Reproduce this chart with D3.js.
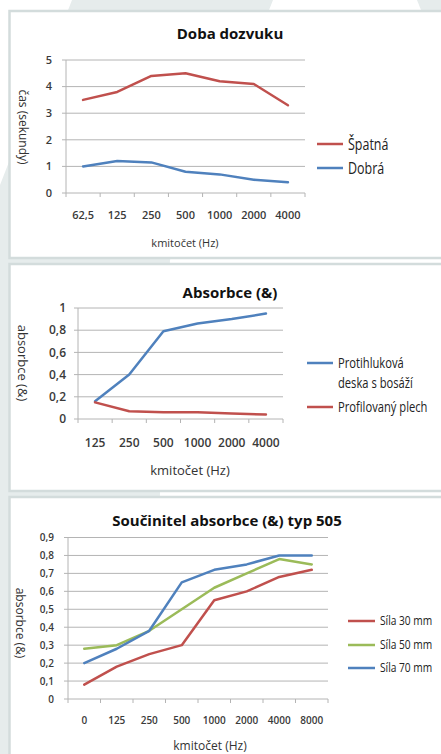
<!DOCTYPE html>
<html>
<head>
<meta charset="utf-8">
<script src="https://cdn.jsdelivr.net/npm/d3@7"></script>
<style>
  body { margin: 0; background: #ffffff; }
  svg { display: block; }
</style>
</head>
<body>
<svg id="chart" width="441" height="754"></svg>
<script>
// Chart 1: Doba dozvuku
let dozvukCategories = ["62,5", "125", "250", "500", "1000", "2000", "4000"];
let dozvukSpatna = [3.5, 3.8, 4.4, 4.5, 4.2, 4.1, 3.3];
let dozvukDobra = [1.0, 1.2, 1.15, 0.8, 0.7, 0.5, 0.4];
let dozvukTicks = [0, 1, 2, 3, 4, 5];

// Chart 2: Absorbce (&)
let absorbceCategories = ["125", "250", "500", "1000", "2000", "4000"];
let absorbceDeska = [0.16, 0.4, 0.79, 0.86, 0.9, 0.95];
let absorbcePlech = [0.15, 0.07, 0.06, 0.06, 0.05, 0.04];
let absorbceTicks = [0, 0.2, 0.4, 0.6, 0.8, 1];

// Chart 3: Součinitel absorbce (&) typ 505
let typCategories = ["0", "125", "250", "500", "1000", "2000", "4000", "8000"];
let typSila30 = [0.08, 0.18, 0.25, 0.3, 0.55, 0.6, 0.68, 0.72];
let typSila50 = [0.28, 0.3, 0.38, 0.5, 0.62, 0.7, 0.78, 0.75];
let typSila70 = [0.2, 0.28, 0.38, 0.65, 0.72, 0.75, 0.8, 0.8];
let typTicks = [0, 0.1, 0.2, 0.3, 0.4, 0.5, 0.6, 0.7, 0.8, 0.9];

let colors = { red: "#c0504d", blue: "#4f81bd", green: "#9bbb59" };
let baseFont = "'Open Sans', 'Noto Sans', sans-serif";

let svg = d3.select("#chart");

// Background stripes and panel frames.
svg.append("rect").attr("width", 441).attr("height", 754).attr("fill", "#ffffff");
svg.append("polygon")
    .attr("points", "72,0 273,0 170,260 160,493 150,754 0,754 0,185")
    .attr("fill", "#e6ecec");
svg.append("polygon")
    .attr("points", "417,0 441,0 441,60")
    .attr("fill", "#e6ecec");

let panels = [
    { y: 11, height: 247 },
    { y: 264, height: 227 },
    { y: 497, height: 270 }
];
panels.forEach(p => {
    svg.append("rect")
        .attr("x", 9.5)
        .attr("y", p.y)
        .attr("width", 440)
        .attr("height", p.height)
        .attr("fill", "#ffffff")
        .attr("stroke", "#d3dcdc")
        .attr("stroke-width", 2.5);
});

function fmt(v) {
    return String(v).replace(".", ",");
}

/**
 *   cfg: positions, data and fonts for one panel
 *   returns void, draws one Excel-like line chart
 */
function drawLineChart(cfg) {
    let g = svg.append("g");

    let x = d3.scaleBand()
        .domain(cfg.categories)
        .range([cfg.left, cfg.right]);
    let y = d3.scaleLinear()
        .domain([0, cfg.max])
        .range([cfg.bottom, cfg.top]);

    // Title.
    g.append("text")
        .attr("x", cfg.titleX)
        .attr("y", cfg.titleY)
        .attr("text-anchor", "middle")
        .style("font-family", baseFont)
        .style("font-weight", "bold")
        .style("font-size", cfg.titleSize + "px")
        .attr("fill", "#111")
        .text(cfg.title);

    // Gridlines and y labels.
    cfg.ticks.forEach(t => {
        g.append("line")
            .attr("x1", cfg.left - 4)
            .attr("x2", cfg.right)
            .attr("y1", y(t))
            .attr("y2", y(t))
            .attr("stroke", "#b4b4b4")
            .attr("stroke-width", 1);
        g.append("text")
            .attr("x", cfg.yLabelX)
            .attr("y", y(t))
            .attr("dy", "0.35em")
            .attr("text-anchor", "end")
            .style("font-family", baseFont)
            .style("font-size", cfg.tickSize + "px")
            .style("font-weight", 600)
            .attr("fill", "#3a3a3a")
            .text(fmt(t));
    });

    // Left axis.
    g.append("line")
        .attr("x1", cfg.left).attr("x2", cfg.left)
        .attr("y1", cfg.top).attr("y2", cfg.bottom)
        .attr("stroke", "#b4b4b4");

    // X tick marks at band edges.
    let edges = cfg.categories.map(c => x(c)).concat([cfg.right]);
    edges.forEach(ex => {
        g.append("line")
            .attr("x1", ex).attr("x2", ex)
            .attr("y1", cfg.bottom).attr("y2", cfg.bottom + 4)
            .attr("stroke", "#b4b4b4");
    });

    // X labels.
    cfg.categories.forEach(c => {
        g.append("text")
            .attr("x", x(c) + x.bandwidth() / 2)
            .attr("y", cfg.xLabelY)
            .attr("text-anchor", "middle")
            .style("font-family", baseFont)
            .style("font-size", cfg.tickSize + "px")
            .style("font-weight", 600)
            .attr("fill", "#3a3a3a")
            .text(c);
    });

    // Axis titles.
    g.append("text")
        .attr("x", cfg.xTitleX)
        .attr("y", cfg.xTitleY)
        .attr("text-anchor", "middle")
        .style("font-family", baseFont)
        .style("font-size", cfg.xTitleSize + "px")
        .attr("fill", "#333")
        .text(cfg.xTitle);
    g.append("text")
        .attr("transform", "translate(" + cfg.yTitleX + "," + cfg.yTitleY + ") rotate(90)")
        .attr("text-anchor", "middle")
        .attr("dy", "0.35em")
        .style("font-family", baseFont)
        .style("font-size", cfg.yTitleSize + "px")
        .attr("fill", "#333")
        .text(cfg.yTitle);

    // Lines.
    let lineGen = d3.line()
        .x((d, i) => x(cfg.categories[i]) + x.bandwidth() / 2)
        .y(d => y(d));
    cfg.series.forEach(s => {
        g.append("path")
            .attr("d", lineGen(s.values))
            .attr("fill", "none")
            .attr("stroke", s.color)
            .attr("stroke-width", 2.5)
            .style("stroke-linejoin", "round")
            .style("stroke-linecap", "round");
    });

    // Legend (text squeezed horizontally to mimic the narrow font).
    cfg.legend.forEach(l => {
        g.append("line")
            .attr("x1", cfg.legendX).attr("x2", cfg.legendX + cfg.legendLen)
            .attr("y1", l.y).attr("y2", l.y)
            .attr("stroke", l.color)
            .attr("stroke-width", 2.5);
        l.lines.forEach((txt, i) => {
            g.append("text")
                .attr("transform", "translate(" + (cfg.legendX + cfg.legendLen + 5) + "," + (l.y + i * cfg.legendLineHeight) + ") scale(" + cfg.legendSqueeze + ",1)")
                .attr("dy", "0.35em")
                .style("font-family", baseFont)
                .style("font-size", cfg.legendSize + "px")
                .attr("fill", "#222")
                .text(txt);
        });
    });
}

drawLineChart({
    title: "Doba dozvuku", titleX: 230, titleY: 39, titleSize: 15,
    categories: dozvukCategories, ticks: dozvukTicks, max: 5,
    left: 66, right: 305, top: 60, bottom: 193,
    yLabelX: 52, xLabelY: 219, tickSize: 11,
    xTitle: "kmitočet (Hz)", xTitleX: 185, xTitleY: 247, xTitleSize: 11,
    yTitle: "čas (sekundy)", yTitleX: 23, yTitleY: 127, yTitleSize: 12,
    series: [
        { values: dozvukSpatna, color: colors.red },
        { values: dozvukDobra, color: colors.blue }
    ],
    legendX: 317, legendLen: 26, legendSize: 16, legendLineHeight: 18, legendSqueeze: 0.78,
    legend: [
        { y: 144, color: colors.red, lines: ["Špatná"] },
        { y: 168, color: colors.blue, lines: ["Dobrá"] }
    ]
});

drawLineChart({
    title: "Absorbce (&)", titleX: 230, titleY: 298, titleSize: 15,
    categories: absorbceCategories, ticks: absorbceTicks, max: 1,
    left: 78, right: 283, top: 308, bottom: 419,
    yLabelX: 66, xLabelY: 447, tickSize: 12,
    xTitle: "kmitočet (Hz)", xTitleX: 190, xTitleY: 475, xTitleSize: 13,
    yTitle: "absorbce (&)", yTitleX: 23, yTitleY: 363, yTitleSize: 13,
    series: [
        { values: absorbceDeska, color: colors.blue },
        { values: absorbcePlech, color: colors.red }
    ],
    legendX: 307, legendLen: 26, legendSize: 14, legendLineHeight: 20, legendSqueeze: 0.8,
    legend: [
        { y: 363, color: colors.blue, lines: ["Protihluková", "deska s bosáží"] },
        { y: 407, color: colors.red, lines: ["Profilovaný plech"] }
    ]
});

drawLineChart({
    title: "Součinitel absorbce (&) typ 505", titleX: 227, titleY: 526, titleSize: 15,
    categories: typCategories, ticks: typTicks, max: 0.9,
    left: 68, right: 328, top: 537.5, bottom: 699,
    yLabelX: 54, xLabelY: 724, tickSize: 10,
    xTitle: "kmitočet (Hz)", xTitleX: 210, xTitleY: 750, xTitleSize: 12,
    yTitle: "absorbce (&)", yTitleX: 20, yTitleY: 623, yTitleSize: 12,
    series: [
        { values: typSila30, color: colors.red },
        { values: typSila50, color: colors.green },
        { values: typSila70, color: colors.blue }
    ],
    legendX: 348, legendLen: 27, legendSize: 12, legendLineHeight: 14, legendSqueeze: 0.85,
    legend: [
        { y: 621, color: colors.red, lines: ["Síla 30 mm"] },
        { y: 645, color: colors.green, lines: ["Síla 50 mm"] },
        { y: 668, color: colors.blue, lines: ["Síla 70 mm"] }
    ]
});
</script>
</body>
</html>
